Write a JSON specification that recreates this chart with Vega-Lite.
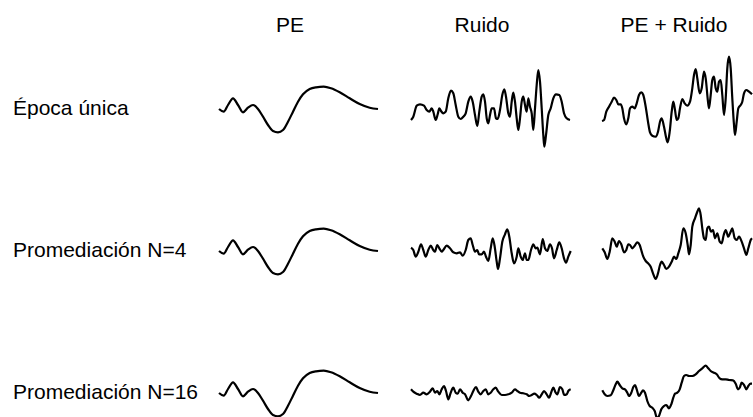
{
"$schema": "https://vega.github.io/schema/vega-lite/v6.json",
"padding": {"left": 13, "top": 15, "right": 0, "bottom": 0},
"background": "white",
"bounds": "flush",
"spacing": 42,
"data": {"values": [
{"f":1,"p":1,"t":1,"v":0},{"f":1,"p":1,"t":5.7,"v":-2.7},{"f":1,"p":1,"t":10,"v":4},{"f":1,"p":1,"t":15,"v":10.7},{"f":1,"p":1,"t":20,"v":4},{"f":1,"p":1,"t":25,"v":-3.3},{"f":1,"p":1,"t":30,"v":1.3},{"f":1,"p":1,"t":35,"v":4},{"f":1,"p":1,"t":40,"v":0},{"f":1,"p":1,"t":45,"v":-7.7},{"f":1,"p":1,"t":50,"v":-16},{"f":1,"p":1,"t":55,"v":-22},{"f":1,"p":1,"t":60,"v":-23.3},{"f":1,"p":1,"t":65,"v":-21},{"f":1,"p":1,"t":70,"v":-12.7},{"f":1,"p":1,"t":75,"v":-2.7},{"f":1,"p":1,"t":80,"v":7.3},{"f":1,"p":1,"t":85,"v":14.7},{"f":1,"p":1,"t":91.7,"v":20},{"f":1,"p":1,"t":98,"v":21.7},{"f":1,"p":1,"t":105.7,"v":22.3},{"f":1,"p":1,"t":113,"v":20.7},{"f":1,"p":1,"t":121.7,"v":16.7},{"f":1,"p":1,"t":131.7,"v":10.7},{"f":1,"p":1,"t":141.7,"v":5},{"f":1,"p":1,"t":151.7,"v":1.3},{"f":1,"p":1,"t":160,"v":0},
{"f":2,"p":1,"t":1,"v":0},{"f":2,"p":1,"t":5.7,"v":-2.7},{"f":2,"p":1,"t":10,"v":4},{"f":2,"p":1,"t":15,"v":10.7},{"f":2,"p":1,"t":20,"v":4},{"f":2,"p":1,"t":25,"v":-3.3},{"f":2,"p":1,"t":30,"v":1.3},{"f":2,"p":1,"t":35,"v":4},{"f":2,"p":1,"t":40,"v":0},{"f":2,"p":1,"t":45,"v":-7.7},{"f":2,"p":1,"t":50,"v":-16},{"f":2,"p":1,"t":55,"v":-22},{"f":2,"p":1,"t":60,"v":-23.3},{"f":2,"p":1,"t":65,"v":-21},{"f":2,"p":1,"t":70,"v":-12.7},{"f":2,"p":1,"t":75,"v":-2.7},{"f":2,"p":1,"t":80,"v":7.3},{"f":2,"p":1,"t":85,"v":14.7},{"f":2,"p":1,"t":91.7,"v":20},{"f":2,"p":1,"t":98,"v":21.7},{"f":2,"p":1,"t":105.7,"v":22.3},{"f":2,"p":1,"t":113,"v":20.7},{"f":2,"p":1,"t":121.7,"v":16.7},{"f":2,"p":1,"t":131.7,"v":10.7},{"f":2,"p":1,"t":141.7,"v":5},{"f":2,"p":1,"t":151.7,"v":1.3},{"f":2,"p":1,"t":160,"v":0},
{"f":3,"p":1,"t":1,"v":0},{"f":3,"p":1,"t":5.7,"v":-2.7},{"f":3,"p":1,"t":10,"v":4},{"f":3,"p":1,"t":15,"v":10.7},{"f":3,"p":1,"t":20,"v":4},{"f":3,"p":1,"t":25,"v":-3.3},{"f":3,"p":1,"t":30,"v":1.3},{"f":3,"p":1,"t":35,"v":4},{"f":3,"p":1,"t":40,"v":0},{"f":3,"p":1,"t":45,"v":-7.7},{"f":3,"p":1,"t":50,"v":-16},{"f":3,"p":1,"t":55,"v":-22},{"f":3,"p":1,"t":60,"v":-23.3},{"f":3,"p":1,"t":65,"v":-21},{"f":3,"p":1,"t":70,"v":-12.7},{"f":3,"p":1,"t":75,"v":-2.7},{"f":3,"p":1,"t":80,"v":7.3},{"f":3,"p":1,"t":85,"v":14.7},{"f":3,"p":1,"t":91.7,"v":20},{"f":3,"p":1,"t":98,"v":21.7},{"f":3,"p":1,"t":105.7,"v":22.3},{"f":3,"p":1,"t":113,"v":20.7},{"f":3,"p":1,"t":121.7,"v":16.7},{"f":3,"p":1,"t":131.7,"v":10.7},{"f":3,"p":1,"t":141.7,"v":5},{"f":3,"p":1,"t":151.7,"v":1.3},{"f":3,"p":1,"t":160,"v":0},
{"f":1,"p":2,"t":1,"v":-11},{"f":1,"p":2,"t":3.3,"v":-7.7},{"f":1,"p":2,"t":6.7,"v":3.3},{"f":1,"p":2,"t":10,"v":4.7},{"f":1,"p":2,"t":14,"v":3.3},{"f":1,"p":2,"t":16.7,"v":-1},{"f":1,"p":2,"t":19.3,"v":-2.7},{"f":1,"p":2,"t":21.7,"v":0.7},{"f":1,"p":2,"t":23.3,"v":-2.7},{"f":1,"p":2,"t":25.7,"v":-11},{"f":1,"p":2,"t":27.7,"v":-5.3},{"f":1,"p":2,"t":29.3,"v":0.7},{"f":1,"p":2,"t":31,"v":-2},{"f":1,"p":2,"t":33.3,"v":-4.3},{"f":1,"p":2,"t":35.7,"v":-2.7},{"f":1,"p":2,"t":38.3,"v":10.7},{"f":1,"p":2,"t":41,"v":18.3},{"f":1,"p":2,"t":43.3,"v":15.7},{"f":1,"p":2,"t":45.7,"v":4},{"f":1,"p":2,"t":48.3,"v":-7.7},{"f":1,"p":2,"t":50.7,"v":-10},{"f":1,"p":2,"t":53.3,"v":-7.7},{"f":1,"p":2,"t":55.7,"v":-4.3},{"f":1,"p":2,"t":58.3,"v":7.3},{"f":1,"p":2,"t":60.7,"v":12.3},{"f":1,"p":2,"t":62.7,"v":7.3},{"f":1,"p":2,"t":65,"v":-6},{"f":1,"p":2,"t":67.3,"v":-17},{"f":1,"p":2,"t":69.3,"v":-2.7},{"f":1,"p":2,"t":71.7,"v":12.3},{"f":1,"p":2,"t":73.3,"v":14.7},{"f":1,"p":2,"t":75,"v":7.3},{"f":1,"p":2,"t":76.7,"v":-9.3},{"f":1,"p":2,"t":78.3,"v":-14.3},{"f":1,"p":2,"t":80,"v":-6},{"f":1,"p":2,"t":81.7,"v":0.7},{"f":1,"p":2,"t":84,"v":0.7},{"f":1,"p":2,"t":86,"v":-9.3},{"f":1,"p":2,"t":87.7,"v":-10},{"f":1,"p":2,"t":90,"v":-1},{"f":1,"p":2,"t":92.3,"v":14},{"f":1,"p":2,"t":94.3,"v":19.7},{"f":1,"p":2,"t":96,"v":12.3},{"f":1,"p":2,"t":98.3,"v":-4.3},{"f":1,"p":2,"t":100,"v":-7.7},{"f":1,"p":2,"t":101.7,"v":7.3},{"f":1,"p":2,"t":103.3,"v":16.3},{"f":1,"p":2,"t":105,"v":7.3},{"f":1,"p":2,"t":106.7,"v":-9.3},{"f":1,"p":2,"t":108.3,"v":-21},{"f":1,"p":2,"t":110,"v":-9.3},{"f":1,"p":2,"t":111.7,"v":7.3},{"f":1,"p":2,"t":113.3,"v":12.3},{"f":1,"p":2,"t":115,"v":4},{"f":1,"p":2,"t":116.7,"v":-2.7},{"f":1,"p":2,"t":118.3,"v":10.7},{"f":1,"p":2,"t":120,"v":2.3},{"f":1,"p":2,"t":121.7,"v":-4.3},{"f":1,"p":2,"t":123.3,"v":-21},{"f":1,"p":2,"t":125,"v":0.7},{"f":1,"p":2,"t":126.7,"v":24},{"f":1,"p":2,"t":128.3,"v":39},{"f":1,"p":2,"t":130,"v":27.3},{"f":1,"p":2,"t":131.7,"v":0.7},{"f":1,"p":2,"t":133.3,"v":-26},{"f":1,"p":2,"t":134.3,"v":-37.7},{"f":1,"p":2,"t":136,"v":-26},{"f":1,"p":2,"t":138.3,"v":-6},{"f":1,"p":2,"t":140.7,"v":0.7},{"f":1,"p":2,"t":143.3,"v":10.7},{"f":1,"p":2,"t":146,"v":14.7},{"f":1,"p":2,"t":149.3,"v":14},{"f":1,"p":2,"t":151.7,"v":7.3},{"f":1,"p":2,"t":154,"v":-4.3},{"f":1,"p":2,"t":156.7,"v":-9.3},{"f":1,"p":2,"t":160,"v":-11},
{"f":1,"p":3,"t":0,"v":-12},{"f":1,"p":3,"t":2,"v":-11},{"f":1,"p":3,"t":4.3,"v":-2.7},{"f":1,"p":3,"t":7,"v":2.3},{"f":1,"p":3,"t":9.7,"v":7.3},{"f":1,"p":3,"t":12,"v":11.3},{"f":1,"p":3,"t":14.3,"v":9},{"f":1,"p":3,"t":16.3,"v":4.7},{"f":1,"p":3,"t":18.7,"v":4.7},{"f":1,"p":3,"t":20.3,"v":0.7},{"f":1,"p":3,"t":22,"v":-9.3},{"f":1,"p":3,"t":24.3,"v":-15.3},{"f":1,"p":3,"t":26.3,"v":-9.3},{"f":1,"p":3,"t":28,"v":0.7},{"f":1,"p":3,"t":30.3,"v":2.3},{"f":1,"p":3,"t":32.7,"v":0.7},{"f":1,"p":3,"t":34.7,"v":5.7},{"f":1,"p":3,"t":37,"v":14},{"f":1,"p":3,"t":39.3,"v":16.7},{"f":1,"p":3,"t":41.3,"v":14},{"f":1,"p":3,"t":43.7,"v":2.3},{"f":1,"p":3,"t":46,"v":-12.7},{"f":1,"p":3,"t":48,"v":-23.3},{"f":1,"p":3,"t":50.3,"v":-26.7},{"f":1,"p":3,"t":53.7,"v":-27.7},{"f":1,"p":3,"t":56,"v":-22.7},{"f":1,"p":3,"t":58,"v":-12.7},{"f":1,"p":3,"t":59.7,"v":-9.3},{"f":1,"p":3,"t":62,"v":-17.7},{"f":1,"p":3,"t":64.3,"v":-29.3},{"f":1,"p":3,"t":65.7,"v":-33.3},{"f":1,"p":3,"t":67.7,"v":-22.7},{"f":1,"p":3,"t":69.7,"v":-2.7},{"f":1,"p":3,"t":71.3,"v":7.3},{"f":1,"p":3,"t":73,"v":-1},{"f":1,"p":3,"t":74.7,"v":-11},{"f":1,"p":3,"t":76.3,"v":-9.3},{"f":1,"p":3,"t":78,"v":0.7},{"f":1,"p":3,"t":80.3,"v":10},{"f":1,"p":3,"t":82.7,"v":5.7},{"f":1,"p":3,"t":85.3,"v":3.3},{"f":1,"p":3,"t":88,"v":7.3},{"f":1,"p":3,"t":90.3,"v":20.7},{"f":1,"p":3,"t":92,"v":34},{"f":1,"p":3,"t":93.7,"v":40},{"f":1,"p":3,"t":95.3,"v":30.7},{"f":1,"p":3,"t":97.7,"v":15.7},{"f":1,"p":3,"t":99.7,"v":20.7},{"f":1,"p":3,"t":102,"v":37.3},{"f":1,"p":3,"t":103.7,"v":30.7},{"f":1,"p":3,"t":106,"v":7.3},{"f":1,"p":3,"t":107,"v":0.7},{"f":1,"p":3,"t":108.7,"v":14},{"f":1,"p":3,"t":110.3,"v":29},{"f":1,"p":3,"t":112,"v":32.3},{"f":1,"p":3,"t":113.7,"v":20.7},{"f":1,"p":3,"t":115.3,"v":17.3},{"f":1,"p":3,"t":117,"v":27.3},{"f":1,"p":3,"t":118.7,"v":29},{"f":1,"p":3,"t":120.3,"v":14},{"f":1,"p":3,"t":122,"v":-6},{"f":1,"p":3,"t":123.7,"v":10.7},{"f":1,"p":3,"t":125.3,"v":40.7},{"f":1,"p":3,"t":127,"v":52.3},{"f":1,"p":3,"t":128.7,"v":40.7},{"f":1,"p":3,"t":130.3,"v":10.7},{"f":1,"p":3,"t":132,"v":-16},{"f":1,"p":3,"t":133,"v":-26},{"f":1,"p":3,"t":134.7,"v":-12.7},{"f":1,"p":3,"t":136.3,"v":0.7},{"f":1,"p":3,"t":138.7,"v":4},{"f":1,"p":3,"t":140.3,"v":7.3},{"f":1,"p":3,"t":142,"v":15.7},{"f":1,"p":3,"t":144.3,"v":19},{"f":1,"p":3,"t":147,"v":17.3},{"f":1,"p":3,"t":150,"v":14.7},
{"f":2,"p":2,"t":1,"v":3.3},{"f":2,"p":2,"t":3.3,"v":1},{"f":2,"p":2,"t":5.7,"v":-5.7},{"f":2,"p":2,"t":8.3,"v":-0.7},{"f":2,"p":2,"t":11,"v":6.7},{"f":2,"p":2,"t":13.3,"v":1},{"f":2,"p":2,"t":15.7,"v":-5.7},{"f":2,"p":2,"t":18.3,"v":1},{"f":2,"p":2,"t":20.7,"v":5.3},{"f":2,"p":2,"t":23.3,"v":1},{"f":2,"p":2,"t":25,"v":-0.7},{"f":2,"p":2,"t":27.3,"v":6},{"f":2,"p":2,"t":29.3,"v":2.7},{"f":2,"p":2,"t":31.7,"v":-0.7},{"f":2,"p":2,"t":33.3,"v":1},{"f":2,"p":2,"t":36.7,"v":5.3},{"f":2,"p":2,"t":40,"v":2.7},{"f":2,"p":2,"t":43.3,"v":-1.3},{"f":2,"p":2,"t":46.7,"v":-2.3},{"f":2,"p":2,"t":50,"v":-1.3},{"f":2,"p":2,"t":52.7,"v":-4.7},{"f":2,"p":2,"t":55.7,"v":1},{"f":2,"p":2,"t":58.3,"v":11},{"f":2,"p":2,"t":60.7,"v":12.7},{"f":2,"p":2,"t":62.7,"v":6},{"f":2,"p":2,"t":65,"v":-0.7},{"f":2,"p":2,"t":67.3,"v":1},{"f":2,"p":2,"t":69,"v":-3.3},{"f":2,"p":2,"t":71.7,"v":-3.3},{"f":2,"p":2,"t":74,"v":-0.7},{"f":2,"p":2,"t":76,"v":-5.7},{"f":2,"p":2,"t":78.3,"v":-10},{"f":2,"p":2,"t":80.7,"v":2.7},{"f":2,"p":2,"t":82.7,"v":12.7},{"f":2,"p":2,"t":84.7,"v":4.3},{"f":2,"p":2,"t":86.7,"v":-10.7},{"f":2,"p":2,"t":88,"v":-18},{"f":2,"p":2,"t":90,"v":-7.3},{"f":2,"p":2,"t":92.3,"v":9.3},{"f":2,"p":2,"t":95,"v":16.7},{"f":2,"p":2,"t":97.3,"v":21.7},{"f":2,"p":2,"t":99.3,"v":14.3},{"f":2,"p":2,"t":101.7,"v":-2.3},{"f":2,"p":2,"t":104,"v":-12.3},{"f":2,"p":2,"t":106.7,"v":-5.7},{"f":2,"p":2,"t":108.3,"v":2.7},{"f":2,"p":2,"t":110.7,"v":-5.7},{"f":2,"p":2,"t":112.7,"v":-9},{"f":2,"p":2,"t":115,"v":-2.3},{"f":2,"p":2,"t":116.7,"v":-9},{"f":2,"p":2,"t":118.3,"v":-9},{"f":2,"p":2,"t":121,"v":1},{"f":2,"p":2,"t":123.3,"v":6.7},{"f":2,"p":2,"t":125.7,"v":2.7},{"f":2,"p":2,"t":127.3,"v":3.3},{"f":2,"p":2,"t":130,"v":-3.3},{"f":2,"p":2,"t":132.7,"v":12},{"f":2,"p":2,"t":135,"v":2.7},{"f":2,"p":2,"t":137.3,"v":0},{"f":2,"p":2,"t":140,"v":6.7},{"f":2,"p":2,"t":142,"v":2.7},{"f":2,"p":2,"t":144,"v":-7.3},{"f":2,"p":2,"t":146.7,"v":1},{"f":2,"p":2,"t":149.3,"v":8.7},{"f":2,"p":2,"t":151.7,"v":2.7},{"f":2,"p":2,"t":154,"v":-7.3},{"f":2,"p":2,"t":156,"v":-11.7},{"f":2,"p":2,"t":158.3,"v":-5.7},{"f":2,"p":2,"t":160.7,"v":0},
{"f":2,"p":3,"t":0.3,"v":2.7},{"f":2,"p":3,"t":2.7,"v":-1.3},{"f":2,"p":3,"t":5.3,"v":-8},{"f":2,"p":3,"t":7.7,"v":-0.7},{"f":2,"p":3,"t":10.3,"v":12.7},{"f":2,"p":3,"t":12.7,"v":9.3},{"f":2,"p":3,"t":14.7,"v":4.3},{"f":2,"p":3,"t":17,"v":10},{"f":2,"p":3,"t":19.3,"v":6.7},{"f":2,"p":3,"t":22,"v":-1.3},{"f":2,"p":3,"t":24.3,"v":1},{"f":2,"p":3,"t":26.3,"v":6.7},{"f":2,"p":3,"t":28,"v":6},{"f":2,"p":3,"t":30.3,"v":2.7},{"f":2,"p":3,"t":32.7,"v":5.3},{"f":2,"p":3,"t":35.3,"v":8.7},{"f":2,"p":3,"t":37.7,"v":6},{"f":2,"p":3,"t":39.7,"v":-0.7},{"f":2,"p":3,"t":41.3,"v":-5.7},{"f":2,"p":3,"t":43.7,"v":-10},{"f":2,"p":3,"t":46,"v":-12.3},{"f":2,"p":3,"t":48.7,"v":-15.7},{"f":2,"p":3,"t":51,"v":-22.3},{"f":2,"p":3,"t":53.7,"v":-28},{"f":2,"p":3,"t":56,"v":-22.3},{"f":2,"p":3,"t":58,"v":-14},{"f":2,"p":3,"t":59.7,"v":-10.7},{"f":2,"p":3,"t":62,"v":-14},{"f":2,"p":3,"t":64.3,"v":-18},{"f":2,"p":3,"t":67,"v":-15.7},{"f":2,"p":3,"t":69.7,"v":-10.7},{"f":2,"p":3,"t":72,"v":-5.7},{"f":2,"p":3,"t":74.3,"v":-8},{"f":2,"p":3,"t":76.3,"v":-2.3},{"f":2,"p":3,"t":78.7,"v":6},{"f":2,"p":3,"t":81.3,"v":22.7},{"f":2,"p":3,"t":83.7,"v":17.7},{"f":2,"p":3,"t":85.7,"v":6},{"f":2,"p":3,"t":87,"v":-3.3},{"f":2,"p":3,"t":88.7,"v":6},{"f":2,"p":3,"t":90.3,"v":24.3},{"f":2,"p":3,"t":93,"v":32.7},{"f":2,"p":3,"t":95.3,"v":39.3},{"f":2,"p":3,"t":97,"v":42.7},{"f":2,"p":3,"t":98.7,"v":36},{"f":2,"p":3,"t":100.3,"v":22.7},{"f":2,"p":3,"t":102,"v":12.7},{"f":2,"p":3,"t":103.7,"v":11},{"f":2,"p":3,"t":105.3,"v":22.7},{"f":2,"p":3,"t":107,"v":24.3},{"f":2,"p":3,"t":109,"v":19.3},{"f":2,"p":3,"t":111,"v":21},{"f":2,"p":3,"t":113,"v":12.7},{"f":2,"p":3,"t":115.3,"v":17.7},{"f":2,"p":3,"t":117.7,"v":9.3},{"f":2,"p":3,"t":119.7,"v":7.7},{"f":2,"p":3,"t":121.7,"v":16},{"f":2,"p":3,"t":123.7,"v":21},{"f":2,"p":3,"t":126.3,"v":14.3},{"f":2,"p":3,"t":128.7,"v":19.3},{"f":2,"p":3,"t":130.3,"v":22.7},{"f":2,"p":3,"t":132.7,"v":12.7},{"f":2,"p":3,"t":134.7,"v":11},{"f":2,"p":3,"t":137,"v":14.3},{"f":2,"p":3,"t":139.7,"v":9.3},{"f":2,"p":3,"t":142,"v":2.7},{"f":2,"p":3,"t":144.3,"v":-4},{"f":2,"p":3,"t":146.3,"v":2.7},{"f":2,"p":3,"t":148.7,"v":11},{"f":2,"p":3,"t":150,"v":12.7},
{"f":3,"p":2,"t":1,"v":3.7},{"f":3,"p":2,"t":3.3,"v":1.3},{"f":3,"p":2,"t":6.7,"v":-0.7},{"f":3,"p":2,"t":10,"v":-2},{"f":3,"p":2,"t":13.3,"v":0.3},{"f":3,"p":2,"t":16.7,"v":-1.3},{"f":3,"p":2,"t":20,"v":1.3},{"f":3,"p":2,"t":22.7,"v":4.7},{"f":3,"p":2,"t":25,"v":0.3},{"f":3,"p":2,"t":27.3,"v":2},{"f":3,"p":2,"t":29.3,"v":-1.3},{"f":3,"p":2,"t":31.7,"v":3.7},{"f":3,"p":2,"t":34,"v":7},{"f":3,"p":2,"t":36,"v":2},{"f":3,"p":2,"t":38.3,"v":-6.3},{"f":3,"p":2,"t":40.7,"v":0.3},{"f":3,"p":2,"t":43.3,"v":5.3},{"f":3,"p":2,"t":45.7,"v":0.3},{"f":3,"p":2,"t":47.7,"v":-0.7},{"f":3,"p":2,"t":50,"v":3.7},{"f":3,"p":2,"t":52.7,"v":0.3},{"f":3,"p":2,"t":55,"v":-1.3},{"f":3,"p":2,"t":58.3,"v":-7.3},{"f":3,"p":2,"t":61,"v":-3},{"f":3,"p":2,"t":63.3,"v":2},{"f":3,"p":2,"t":66,"v":6},{"f":3,"p":2,"t":68.3,"v":1.3},{"f":3,"p":2,"t":70.7,"v":-1.3},{"f":3,"p":2,"t":73.3,"v":2},{"f":3,"p":2,"t":75.7,"v":3.7},{"f":3,"p":2,"t":78.3,"v":-1.3},{"f":3,"p":2,"t":80.7,"v":0.3},{"f":3,"p":2,"t":83.3,"v":3.7},{"f":3,"p":2,"t":85.7,"v":5.3},{"f":3,"p":2,"t":88.3,"v":1.3},{"f":3,"p":2,"t":91.7,"v":-2},{"f":3,"p":2,"t":95,"v":-2},{"f":3,"p":2,"t":98.3,"v":-1.3},{"f":3,"p":2,"t":101.7,"v":0.3},{"f":3,"p":2,"t":105,"v":3.7},{"f":3,"p":2,"t":107.3,"v":2},{"f":3,"p":2,"t":110,"v":0.3},{"f":3,"p":2,"t":113.3,"v":-0.3},{"f":3,"p":2,"t":116.7,"v":-1.3},{"f":3,"p":2,"t":119.3,"v":-3},{"f":3,"p":2,"t":121.7,"v":-2},{"f":3,"p":2,"t":124.3,"v":-0.7},{"f":3,"p":2,"t":126.7,"v":-2},{"f":3,"p":2,"t":129.3,"v":-4.7},{"f":3,"p":2,"t":131.7,"v":-1.3},{"f":3,"p":2,"t":134,"v":2},{"f":3,"p":2,"t":136.7,"v":-1.3},{"f":3,"p":2,"t":139,"v":-4.7},{"f":3,"p":2,"t":141.7,"v":2},{"f":3,"p":2,"t":143.3,"v":5.3},{"f":3,"p":2,"t":145.7,"v":0.3},{"f":3,"p":2,"t":147.3,"v":-1.3},{"f":3,"p":2,"t":150,"v":6},{"f":3,"p":2,"t":152.3,"v":3.7},{"f":3,"p":2,"t":154.3,"v":-2},{"f":3,"p":2,"t":156.7,"v":-1.3},{"f":3,"p":2,"t":158.3,"v":2},{"f":3,"p":2,"t":160.7,"v":3.7},
{"f":3,"p":3,"t":0.3,"v":2.7},{"f":3,"p":3,"t":2.7,"v":-1.3},{"f":3,"p":3,"t":5.3,"v":-3},{"f":3,"p":3,"t":8.7,"v":-2.3},{"f":3,"p":3,"t":11,"v":2},{"f":3,"p":3,"t":13.7,"v":8.7},{"f":3,"p":3,"t":15.3,"v":11.3},{"f":3,"p":3,"t":17.7,"v":8},{"f":3,"p":3,"t":20.3,"v":4.7},{"f":3,"p":3,"t":23,"v":3.7},{"f":3,"p":3,"t":25.3,"v":0.3},{"f":3,"p":3,"t":27,"v":-3},{"f":3,"p":3,"t":29.3,"v":0.3},{"f":3,"p":3,"t":31.3,"v":6},{"f":3,"p":3,"t":33,"v":8},{"f":3,"p":3,"t":34.7,"v":3.7},{"f":3,"p":3,"t":37,"v":-3},{"f":3,"p":3,"t":39.3,"v":0.3},{"f":3,"p":3,"t":41,"v":2.7},{"f":3,"p":3,"t":43,"v":0.3},{"f":3,"p":3,"t":45.3,"v":-8},{"f":3,"p":3,"t":47.7,"v":-13},{"f":3,"p":3,"t":50.3,"v":-14.7},{"f":3,"p":3,"t":52.7,"v":-18},{"f":3,"p":3,"t":55,"v":-25},{"f":3,"p":3,"t":57,"v":-23},{"f":3,"p":3,"t":59.3,"v":-16.3},{"f":3,"p":3,"t":62,"v":-13},{"f":3,"p":3,"t":64.3,"v":-12},{"f":3,"p":3,"t":67,"v":-15.3},{"f":3,"p":3,"t":69.3,"v":-11.3},{"f":3,"p":3,"t":71.3,"v":-4.7},{"f":3,"p":3,"t":73,"v":-0.7},{"f":3,"p":3,"t":75.3,"v":0.3},{"f":3,"p":3,"t":77.7,"v":3.7},{"f":3,"p":3,"t":79.7,"v":10.3},{"f":3,"p":3,"t":82,"v":17},{"f":3,"p":3,"t":84.3,"v":18},{"f":3,"p":3,"t":87,"v":17},{"f":3,"p":3,"t":90.3,"v":17},{"f":3,"p":3,"t":93.7,"v":18.7},{"f":3,"p":3,"t":97,"v":22},{"f":3,"p":3,"t":100.3,"v":24.7},{"f":3,"p":3,"t":103.7,"v":27.3},{"f":3,"p":3,"t":106.3,"v":24.7},{"f":3,"p":3,"t":108.7,"v":22},{"f":3,"p":3,"t":112,"v":20.3},{"f":3,"p":3,"t":114.7,"v":18.7},{"f":3,"p":3,"t":117.7,"v":14.7},{"f":3,"p":3,"t":120.3,"v":13.7},{"f":3,"p":3,"t":123.7,"v":13.7},{"f":3,"p":3,"t":127,"v":13},{"f":3,"p":3,"t":131,"v":12.7},{"f":3,"p":3,"t":133.7,"v":9.3},{"f":3,"p":3,"t":136,"v":3.7},{"f":3,"p":3,"t":137.7,"v":5.3},{"f":3,"p":3,"t":139.7,"v":10.3},{"f":3,"p":3,"t":142,"v":8},{"f":3,"p":3,"t":144.3,"v":3.7},{"f":3,"p":3,"t":146.3,"v":7},{"f":3,"p":3,"t":148.7,"v":9.3},{"f":3,"p":3,"t":150,"v":9.3}
]},
"hconcat": [
  {
    "data": {"values": [{"r": 1, "lab": "Época única"}, {"r": 2, "lab": "Promediación N=4"}, {"r": 3, "lab": "Promediación N=16"}]},
    "width": 160,
    "height": 334,
    "mark": {"type": "text", "align": "left", "baseline": "middle", "font": "Liberation Sans", "fontSize": 21, "color": "#000"},
    "encoding": {
      "x": {"datum": 0, "type": "quantitative", "scale": {"domain": [0, 1]}, "axis": null},
      "y": {"field": "r", "type": "quantitative", "scale": {"domain": [0.824, 3.176], "reverse": true, "nice": false, "zero": false}, "axis": null},
      "text": {"field": "lab"}
    }
  },
  {
    "facet": {
      "row": {"field": "f", "type": "ordinal", "title": null, "header": {"labels": false}},
      "column": {"field": "p", "type": "ordinal", "title": null,
        "header": {"labelExpr": "['PE','Ruido','PE + Ruido'][datum.value-1]", "labelFont": "Liberation Sans", "labelFontSize": 21, "labelColor": "#000", "labelPadding": 48}}
    },
    "spacing": {"row": 92, "column": 42},
    "bounds": "flush",
    "spec": {
      "width": 150,
      "height": 50,
      "mark": {"type": "line", "color": "#000", "strokeWidth": 2.2, "interpolate": "monotone"},
      "encoding": {
        "x": {"field": "t", "type": "quantitative", "scale": {"domain": [-3, 147], "nice": false, "zero": false}, "axis": null},
        "y": {"field": "v", "type": "quantitative", "scale": {"domain": [-25, 25], "nice": false, "zero": false}, "axis": null}
      }
    }
  }
],
"config": {"view": {"stroke": null}}
}
